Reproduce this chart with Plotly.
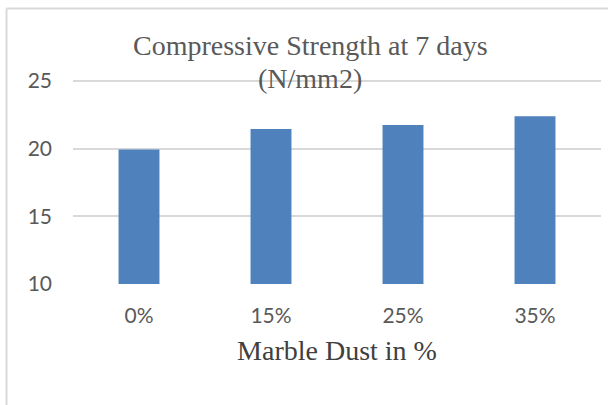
import plotly.graph_objects as go

categories = ["0%", "15%", "25%", "35%"]
strength = [19.95, 21.45, 21.75, 22.4]
y_ticks = [10, 15, 20, 25]

title_line1 = "Compressive Strength at 7 days"
title_line2 = "(N/mm2)"
x_title = "Marble Dust in %"

W, H = 608, 405
L, R, T, B = 73, 7, 77, 121
pw = W - L - R
ph = H - T - B

def px_x(px):
    return (px - L) / pw

def px_y(py):
    return (H - B - py) / ph

fig = go.Figure(go.Bar(
    x=categories, y=strength,
    marker=dict(color="#4F81BD", line=dict(width=0)),
    width=0.31,
))

fig.update_layout(
    width=W, height=H,
    margin=dict(l=L, r=R, t=T, b=B),
    paper_bgcolor="white", plot_bgcolor="white",
    showlegend=False,
    font=dict(family="Lato, Open Sans, sans-serif", color="#595959", size=21),
    xaxis=dict(showgrid=False, showline=False, ticks="", tickfont=dict(size=21, color="#595959"),
               ticklabelstandoff=17,
               title=dict(text=x_title, font=dict(family="Liberation Serif, serif", size=28, color="#404040"), standoff=14)),
    yaxis=dict(range=[10, 25.3], tickvals=y_ticks, showgrid=True, gridcolor="#D9D9D9", gridwidth=1.5,
               zeroline=False, showline=False, ticks="", tickfont=dict(size=21, color="#595959"),
               ticklabelstandoff=20),
    shapes=[
        dict(type="line", xref="paper", yref="paper", x0=px_x(6.5), x1=px_x(640), y0=px_y(8.5), y1=px_y(8.5),
             line=dict(color="#D9D9D9", width=2)),
        dict(type="line", xref="paper", yref="paper", x0=px_x(6.5), x1=px_x(6.5), y0=px_y(8.5), y1=px_y(440),
             line=dict(color="#D9D9D9", width=2)),
    ],
    annotations=[
        dict(text=title_line1, xref="paper", yref="paper", x=px_x(310), y=px_y(45.5), showarrow=False,
             xanchor="center", yanchor="middle",
             font=dict(family="Liberation Serif, serif", size=28, color="#595959")),
        dict(text=title_line2, xref="paper", yref="paper", x=px_x(310), y=px_y(78.5), showarrow=False,
             xanchor="center", yanchor="middle",
             font=dict(family="Liberation Serif, serif", size=28, color="#595959")),
    ],
)

fig.write_html("out.html", config={"displayModeBar": False},
               post_script="document.body.style.margin='0';")
